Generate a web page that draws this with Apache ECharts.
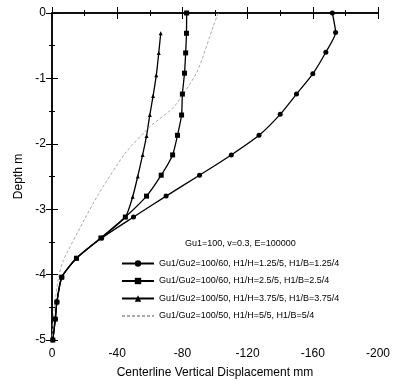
<!DOCTYPE html>
<html>
<head>
<meta charset="utf-8">
<script src="https://cdn.jsdelivr.net/npm/echarts@6/dist/echarts.min.js"></script>
<style>
	html, body { margin: 0; padding: 0; background: #fff; }
	#main { width: 393px; height: 385px; }
</style>
</head>
<body>
<div id="main"></div>
<script>
	// 图例名称
	var seriesNames = [
		'Gu1/Gu2=100/60, H1/H=1.25/5, H1/B=1.25/4',
		'Gu1/Gu2=100/60, H1/H=2.5/5, H1/B=2.5/4',
		'Gu1/Gu2=100/50, H1/H=3.75/5, H1/B=3.75/4',
		'Gu1/Gu2=100/50, H1/H=5/5, H1/B=5/4'
	];
	var legendTitle = 'Gu1=100, v=0.3, E=100000';

	// [位移 mm, 深度 m]
	var circleData = [[-172, 0], [-174, -0.3], [-168, -0.6], [-160, -0.93], [-150, -1.24], [-140, -1.55],
		[-127, -1.87], [-110, -2.17], [-90.5, -2.48], [-70, -2.8], [-50, -3.12], [-30.5, -3.44],
		[-15, -3.75], [-6, -4.04], [-3, -4.42], [-2, -4.68], [-0.5, -5]];
	var squareData = [[-82.6, 0], [-82.5, -0.31], [-82, -0.61], [-81.3, -0.92], [-80, -1.24], [-79.5, -1.56],
		[-77, -1.87], [-74, -2.17], [-67, -2.48], [-58, -2.8], [-45, -3.12], [-30, -3.44],
		[-15, -3.75], [-6, -4.04], [-3, -4.42], [-2, -4.68], [-0.5, -5]];
	var triangleData = [[-66.7, -0.31], [-65.5, -0.61], [-64, -0.95], [-62, -1.27], [-60, -1.56], [-58, -1.88],
		[-55.6, -2.17], [-52.6, -2.5], [-49.5, -2.81], [-45, -3.12], [-30, -3.44], [-15, -3.75],
		[-6, -4.04], [-3, -4.42], [-2, -4.68], [-0.5, -5]];
	var dottedData = [[-102, 0], [-99, -0.2], [-89, -0.9], [-75, -1.43], [-60, -1.74], [-45, -2.14],
		[-29, -2.75], [-19, -3.2], [-7, -3.78], [-4, -4.04], [-1.5, -4.5], [0, -5]];

	var xTicks = { min: -200, max: 0, interval: 40 };
	var yTicks = { min: -5, max: 0, interval: 1 };

	var font = 'Liberation Sans';
	var axisLine = { show: true, lineStyle: { color: '#000', width: 1.5 } };

	var myChart = echarts.init(document.getElementById('main'));
	var option = {
		animation: false,
		textStyle: { fontFamily: font },
		title: {
			text: legendTitle,
			left: 180, top: 234,
			textStyle: { fontSize: 9, fontWeight: 'normal', color: '#000', fontFamily: font }
		},
		legend: {
			orient: 'vertical',
			left: 116, top: 254,
			itemWidth: 32, itemHeight: 8,
			itemGap: 8.5,
			textStyle: { fontSize: 9, color: '#000', fontFamily: font },
			data: [seriesNames[0], seriesNames[1], seriesNames[2],
				{ name: seriesNames[3], itemStyle: { opacity: 0 } }]
		},
		grid: { left: 52, right: 12, top: 13, bottom: 45 },
		xAxis: [{
			type: 'value',
			min: xTicks.min, max: xTicks.max, interval: xTicks.interval,
			inverse: true,
			position: 'bottom',
			name: 'Centerline Vertical Displacement mm',
			nameLocation: 'middle', nameGap: 27,
			nameTextStyle: { fontSize: 12, color: '#000', fontFamily: font },
			axisLine: axisLine,
			axisTick: { inside: true, length: 6, lineStyle: { color: '#000' } },
			minorTick: { show: true, splitNumber: 2, length: 3, lineStyle: { color: '#000' } },
			axisLabel: { fontSize: 12, color: '#000', margin: 8, showMaxLabel: true },
			splitLine: { show: false }
		}, {
			type: 'value',
			min: xTicks.min, max: xTicks.max, interval: xTicks.interval,
			inverse: true,
			position: 'top',
			axisLine: axisLine,
			axisTick: { inside: true, length: 6, lineStyle: { color: '#000' } },
			minorTick: { show: true, splitNumber: 2, length: 3, lineStyle: { color: '#000' } },
			axisLabel: { show: false },
			splitLine: { show: false }
		}],
		yAxis: [{
			type: 'value',
			min: yTicks.min, max: yTicks.max, interval: yTicks.interval,
			position: 'left',
			name: 'Depth m',
			nameLocation: 'middle', nameGap: 24,
			nameTextStyle: { fontSize: 12, color: '#000', fontFamily: font },
			axisLine: axisLine,
			axisTick: { inside: true, length: 6, lineStyle: { color: '#000' } },
			minorTick: { show: true, splitNumber: 2, length: 3, lineStyle: { color: '#000' } },
			axisLabel: { fontSize: 12, color: '#000', margin: 6 },
			splitLine: { show: false }
		}, {
			type: 'value',
			min: yTicks.min, max: yTicks.max, interval: yTicks.interval,
			position: 'right',
			axisLine: axisLine,
			axisTick: { inside: true, length: 6, lineStyle: { color: '#000' } },
			minorTick: { show: true, splitNumber: 2, length: 3, lineStyle: { color: '#000' } },
			axisLabel: { show: false },
			splitLine: { show: false }
		}],
		series: [{
			name: seriesNames[0], type: 'line',
			data: circleData,
			symbol: 'circle', symbolSize: 5,
			smooth: 0.2,
			itemStyle: { color: '#000' },
			lineStyle: { color: '#000', width: 1.3 }
		}, {
			name: seriesNames[1], type: 'line',
			data: squareData,
			symbol: 'rect', symbolSize: 5,
			smooth: 0.2,
			itemStyle: { color: '#000' },
			lineStyle: { color: '#000', width: 1.3 }
		}, {
			name: seriesNames[2], type: 'line',
			data: triangleData,
			symbol: 'triangle', symbolSize: 4,
			smooth: 0.2,
			itemStyle: { color: '#000' },
			lineStyle: { color: '#000', width: 1.3 }
		}, {
			name: seriesNames[3], type: 'line',
			data: dottedData,
			symbol: 'none',
			smooth: 0.2,
			itemStyle: { color: '#aaa' },
			lineStyle: { color: '#aaa', width: 1, type: [3, 2] }
		}]
	};
	myChart.setOption(option);
</script>
</body>
</html>
